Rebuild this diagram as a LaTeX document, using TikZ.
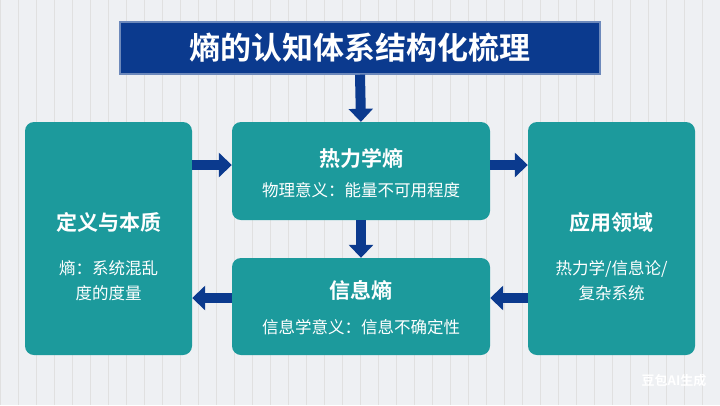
\documentclass[tikz,border=0pt]{standalone}
\usepackage{fontspec}
\setmainfont{Noto Sans CJK SC}
\newfontfamily\cjkb{Noto Sans CJK SC Bold}
\usetikzlibrary{arrows.meta}
\definecolor{navy}{HTML}{0B3A8E}
\definecolor{tealbox}{HTML}{1C9A9C}
\definecolor{gridbg}{HTML}{EEF0F3}
\tikzset{
  box/.style={fill=tealbox, rounded corners=9pt, draw=none},
  link/.style={-{Triangle[length=13pt,width=24pt]}, line width=10pt, navy},
  head/.style={text=white, font=\cjkb\fontsize{21}{24}\selectfont},
  body/.style={text=white, font=\fontsize{16.5}{25}\selectfont, align=center}
}
\begin{document}
\begin{tikzpicture}[x=1pt,y=-1pt]
\useasboundingbox (0,0) rectangle (720,405);
\fill[gridbg] (0,0) rectangle (720,405);
\draw[black!12, line width=0.5pt, step=18] (0,0) grid (720,405);
% title
\node[fill=navy, draw=navy!60!white, line width=1.5pt, minimum width=480pt, minimum height=52pt,
  text=white, font=\cjkb\fontsize{31}{34}\selectfont] (title) at (360,48) {熵的认知体系结构化梳理};
% boxes
\node[box, minimum width=167pt, minimum height=233pt] (def) at (108.5,238.5) {};
\node[box, minimum width=258pt, minimum height=98pt] (thermo) at (361,171) {};
\node[box, minimum width=258pt, minimum height=97pt] (info) at (361,306.5) {};
\node[box, minimum width=167pt, minimum height=233pt] (app) at (611.5,238.5) {};
% texts
\node[head] (defh) at (108.5,222) {定义与本质};
\node[body] (defb) at (108.5,281) {熵：系统混乱\\度的度量};
\node[head] (thh) at (361,158) {热力学熵};
\node[body] (thb) at (361,190) {物理意义：能量不可用程度};
\node[head] (inh) at (361,290) {信息熵};
\node[body] (inb) at (361,327) {信息学意义：信息不确定性};
\node[head] (aph) at (611.5,222) {应用领域};
\node[body] (apb) at (611.5,281) {热力学/信息论/\\复杂系统};
% arrows
\draw[link] (title.south) -- (thermo.north);
\draw[link] (def.east |- 0,165) -- (thermo.west |- 0,165);
\draw[link] (thermo.east |- 0,165) -- (app.west |- 0,165);
\draw[link] (thermo.south) -- (info.north);
\draw[link] (app.west |- 0,298) -- (info.east |- 0,298);
\draw[link] (info.west |- 0,298) -- (def.east |- 0,298);
\node[text=white, font=\cjkb\fontsize{13}{15}\selectfont] (mark) at (674,381) {豆包AI生成};
\end{tikzpicture}
\end{document}
